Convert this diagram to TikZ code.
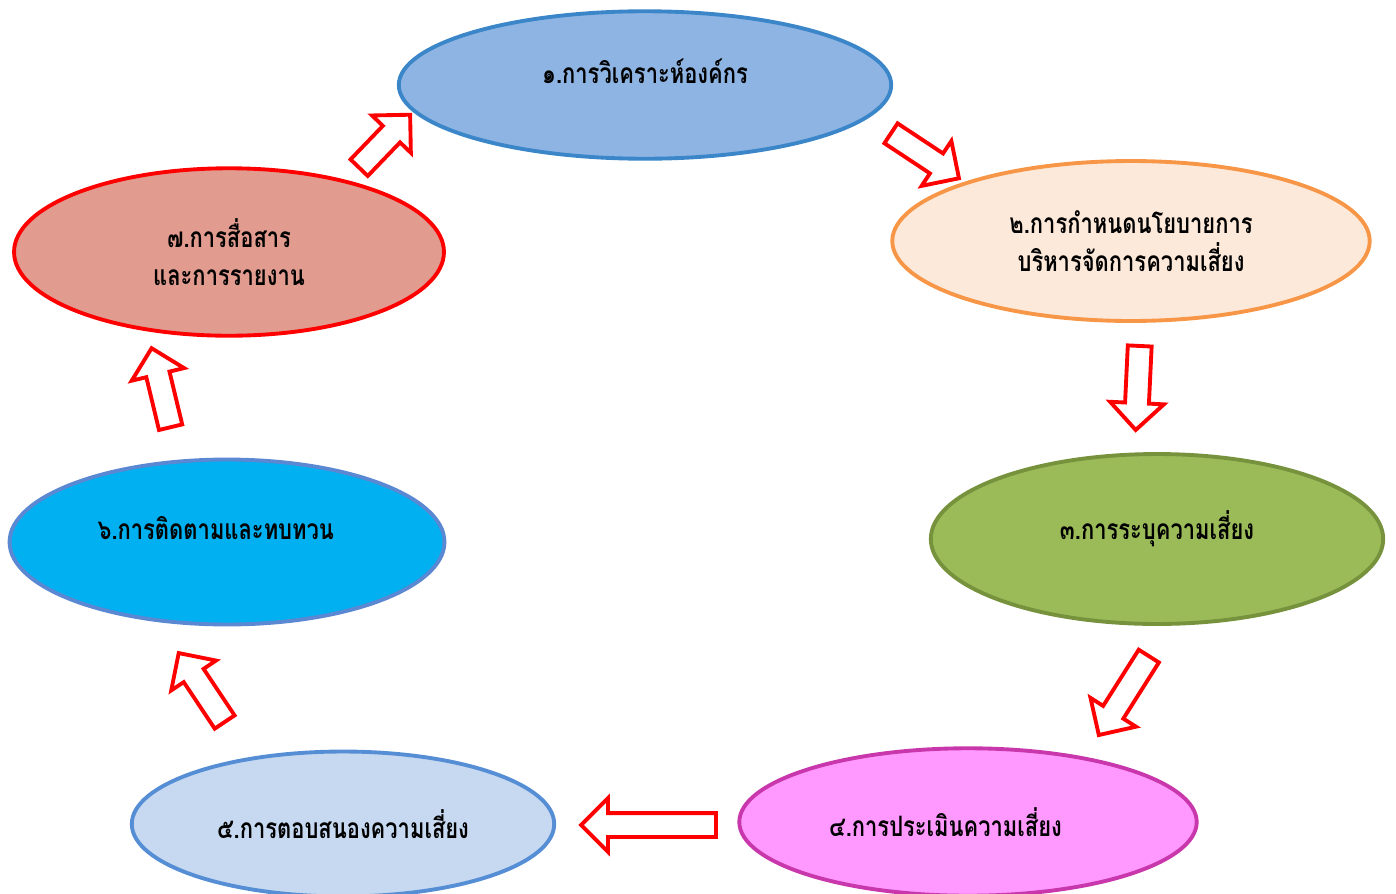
\documentclass[tikz,border=0pt]{standalone}
\usepackage{fontspec}
\newfontfamily\thaifont[Script=Thai,FakeStretch=0.78]{Loma}
\usetikzlibrary{shapes.geometric,shapes.arrows,calc}

\definecolor{fillA}{HTML}{8EB4E3}
\definecolor{lineA}{HTML}{3A86C8}
\definecolor{fillB}{HTML}{FDE9D9}
\definecolor{lineB}{HTML}{F79646}
\definecolor{fillC}{HTML}{9BBB59}
\definecolor{lineC}{HTML}{76923C}
\definecolor{fillD}{HTML}{FF99FF}
\definecolor{lineD}{HTML}{C837AB}
\definecolor{fillE}{HTML}{C6D9F1}
\definecolor{lineE}{HTML}{558ED5}
\definecolor{fillF}{HTML}{00B0F0}
\definecolor{lineF}{HTML}{5A88D2}
\definecolor{fillG}{HTML}{E19B8F}
\definecolor{lineG}{HTML}{FF0000}

\begin{document}
\begin{tikzpicture}[x=0.02cm,y=-0.02cm]
 \tikzset{stage/.style = {ellipse, line width=2.2pt, inner sep=0pt, align=center,
   font=\thaifont\bfseries\fontsize{16}{22}\selectfont}}
 \tikzset{uptext/.style = {text depth=0.55cm}}
 \tikzset{flow/.style = {single arrow, draw=red, fill=white, line width=2.2pt, inner xsep=0pt, inner ysep=0.2cm,
   minimum width=1cm, single arrow head extend=0.3cm, single arrow tip angle=90}}

 \useasboundingbox (0,0) rectangle (1396,893);

 \node[stage, draw=lineA, fill=fillA, minimum width=9.85cm, minimum height=2.95cm, uptext] (s1) at (645,85) {๑.การวิเคราะห์องค์กร};
 \node[stage, draw=lineB, fill=fillB, minimum width=9.55cm, minimum height=3.2cm] (s2) at (1131,241) {๒.การกำหนดนโยบายการ\\บริหารจัดการความเสี่ยง};
 \node[stage, draw=lineC, fill=fillC, minimum width=9.05cm, minimum height=3.4cm, uptext] (s3) at (1157,539) {๓.การระบุความเสี่ยง};
 \node[stage, draw=lineD, fill=fillD, minimum width=9.15cm, minimum height=2.95cm] (s4) at (968,822) {๔.การประเมินความเสี่ยง\hspace{0.9cm}};
 \node[stage, draw=lineE, fill=fillE, minimum width=8.45cm, minimum height=2.9cm] (s5) at (343,824) {๕.การตอบสนองความเสี่ยง};
 \node[stage, draw=lineF, fill=fillF, minimum width=8.7cm, minimum height=3.3cm, uptext] (s6) at (227,542) {๖.การติดตามและทบทวน\hspace{0.45cm}};
 \node[stage, draw=lineG, fill=fillG, minimum width=8.6cm, minimum height=3.35cm] (s7) at (229,252) {๗.การสื่อสาร\\และการรายงาน};

 % arrow tails and tips
 \coordinate (t1) at (355,172); \coordinate (h1) at (406,119);
 \coordinate (t2) at (886,130); \coordinate (h2) at (954,175);
 \coordinate (t3) at (1140,340); \coordinate (h3) at (1136,424);
 \coordinate (t4) at (1152,651); \coordinate (h4) at (1102,730);
 \coordinate (t5) at (722,825); \coordinate (h5) at (587,825);
 \coordinate (t6) at (228,727); \coordinate (h6) at (182,658);
 \coordinate (t7) at (172,433); \coordinate (h7) at (153,354);

 \foreach \i in {1,...,7}
  \path let \p1 = ($(h\i)-(t\i)$), \n1 = {veclen(\x1,\y1)} in
   (t\i) -- (h\i) node[flow, midway, sloped, allow upside down, minimum height=\n1] (a\i) {};

\end{tikzpicture}
\end{document}
